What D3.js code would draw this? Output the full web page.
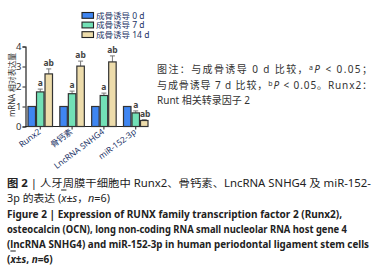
<!DOCTYPE html>
<html>
<head>
<meta charset="utf-8">
<script src="https://cdn.jsdelivr.net/npm/d3@7"></script>
<style>
  body { margin: 0; background: #fff; }
  text { font-family: 'Noto Sans', 'Noto Sans CJK SC', sans-serif; }
</style>
</head>
<body>
<div id="chart"></div>
<script>
const genes = ['Runx2', '骨钙素', 'LncRNA SNHG4', 'miR-152-3p'];
const series = ['成骨诱导 0 d', '成骨诱导 7 d', '成骨诱导 14 d'];
const means0 = [1.0, 1.0, 1.0, 1.0];
const means7 = [1.73, 1.64, 1.55, 0.68];
const means14 = [2.63, 3.02, 3.23, 0.3];
const err0 = [0, 0, 0, 0];
const err7 = [0.14, 0.13, 0.12, 0.1];
const err14 = [0.25, 0.25, 0.3, 0.04];
const sig7 = ['a', 'a', 'a', 'a'];
const sig14 = ['ab', 'ab', 'ab', 'ab'];
const yTicks = [0, 1, 2, 3, 4];

const colors = ['#3f86f2', '#72e0b6', '#eddcab'];
const width = 379, height = 279;

const svg = d3.select('#chart').append('svg')
    .attr('width', width)
    .attr('height', height);
svg.append('rect').attr('width', width).attr('height', height).attr('fill', '#fff');

const xScale = d3.scaleBand().domain(genes).range([28, 148]).paddingInner(0.23).paddingOuter(0.0);
const xSub = d3.scaleBand().domain([0, 1, 2]).range([0, xScale.bandwidth()]).paddingInner(0.12);
const yScale = d3.scaleLinear().domain([0, 4]).range([126.5, 46.5]);

const rows = genes.map((g, i) => ({
    gene: g,
    vals: [means0[i], means7[i], means14[i]],
    errs: [err0[i], err7[i], err14[i]],
    sig: ['', sig7[i], sig14[i]]
}));

// axes
const yAxis = svg.append('g').attr('transform', 'translate(25.5,0)')
    .call(d3.axisLeft(yScale).tickValues(yTicks).tickSize(3).tickFormat(d3.format('d')));
yAxis.select('.domain').attr('stroke', '#222').attr('stroke-width', 1.2);
yAxis.selectAll('.tick line').attr('stroke', '#222');
yAxis.selectAll('.tick text').attr('font-size', 9.5).attr('fill', '#333').attr('x', -4);

const xAxis = svg.append('g').attr('transform', 'translate(0,126.5)')
    .call(d3.axisBottom(xScale).tickSize(3).tickSizeOuter(0).tickFormat(''));
xAxis.select('.domain').attr('stroke', '#222').attr('stroke-width', 1.2)
    .attr('d', 'M25,0H147');
xAxis.selectAll('.tick line').attr('stroke', '#222');

svg.selectAll('.xlab').data(genes).join('text')
    .attr('class', 'xlab')
    .attr('transform', d => `translate(${xScale(d) + xScale.bandwidth() / 2 + 1},133) rotate(-37)`)
    .attr('text-anchor', 'end')
    .attr('font-size', 8.3)
    .attr('fill', '#223366')
    .text(d => d);

svg.append('text')
    .attr('transform', 'translate(15,85) rotate(-90)')
    .attr('text-anchor', 'middle')
    .attr('font-size', 8.5)
    .attr('textLength', 64).attr('lengthAdjust', 'spacingAndGlyphs')
    .attr('fill', '#333')
    .text('mRNA 相对表达量');

// bars
const grp = svg.selectAll('.grp').data(rows).join('g')
    .attr('class', 'grp')
    .attr('transform', d => `translate(${xScale(d.gene)},0)`);

grp.each(function (d) {
    const gg = d3.select(this);
    d.vals.forEach((v, j) => {
        const x0 = xSub(j), w = xSub.bandwidth();
        const cx = x0 + w / 2;
        if (d.errs[j] > 0) {
            const top = yScale(v + d.errs[j]);
            gg.append('line').attr('x1', cx).attr('x2', cx)
                .attr('y1', yScale(v)).attr('y2', top)
                .attr('stroke', '#777').attr('stroke-width', 1);
            gg.append('line').attr('x1', cx - 2.5).attr('x2', cx + 2.5)
                .attr('y1', top).attr('y2', top)
                .attr('stroke', '#777').attr('stroke-width', 1);
        }
        gg.append('rect')
            .attr('x', x0).attr('y', yScale(v))
            .attr('width', w).attr('height', yScale(0) - yScale(v))
            .attr('fill', colors[j])
            .attr('stroke', '#333').attr('stroke-width', 1.2);
        if (d.sig[j]) {
            gg.append('text')
                .attr('x', cx + (j === 2 && d.gene === 'miR-152-3p' ? 1 : 0))
                .attr('y', yScale(v + d.errs[j]) - 3)
                .attr('text-anchor', 'middle')
                .attr('font-size', 8.5)
                .attr('font-weight', 'bold')
                .attr('fill', '#444')
                .text(d.sig[j]);
        }
    });
});

// legend
const leg = svg.selectAll('.leg').data(series).join('g')
    .attr('class', 'leg')
    .attr('transform', (d, i) => `translate(82,${12.5 + i * 9.6})`);
leg.append('rect').attr('width', 11.5).attr('height', 5.8)
    .attr('fill', (d, i) => colors[i]).attr('stroke', '#222').attr('stroke-width', 1.1);
leg.append('text').attr('x', 14).attr('y', 6)
    .attr('font-size', 8.5).attr('fill', '#223366')
    .text(d => d);

// note text on right
const note = svg.append('g').attr('fill', '#333').attr('font-size', 10);
const n1 = note.append('text').attr('x', 157).attr('y', 73)
    .attr('textLength', 215).attr('lengthAdjust', 'spacing');
n1.append('tspan').text('图注：与成骨诱导 0 d 比较，');
n1.append('tspan').attr('font-size', 7).attr('dy', -3).text('a');
n1.append('tspan').attr('font-style', 'italic').attr('dy', 3).text('P');
n1.append('tspan').text(' < 0.05；');
const n2 = note.append('text').attr('x', 157).attr('y', 89)
    .attr('textLength', 215).attr('lengthAdjust', 'spacing');
n2.append('tspan').text('与成骨诱导 7 d 比较，');
n2.append('tspan').attr('font-size', 7).attr('dy', -3).text('b');
n2.append('tspan').attr('font-style', 'italic').attr('dy', 3).text('P');
n2.append('tspan').text(' < 0.05。Runx2：');
note.append('text').attr('x', 157).attr('y', 104)
    .attr('textLength', 93).attr('lengthAdjust', 'spacing')
    .text('Runt 相关转录因子 2');

// caption
const cap = svg.append('g').attr('fill', '#222');
const c1 = cap.append('text').attr('x', 7).attr('y', 186.5).attr('font-size', 10)
    .attr('textLength', 364).attr('lengthAdjust', 'spacingAndGlyphs');
c1.append('tspan').attr('font-weight', 'bold').text('图 2 ');
c1.append('tspan').text('| 人牙周膜干细胞中 Runx2、骨钙素、LncRNA SNHG4 及 miR-152-');
const c2 = cap.append('text').attr('x', 7).attr('y', 201.5).attr('font-size', 10)
    .attr('textLength', 103).attr('lengthAdjust', 'spacingAndGlyphs');
c2.append('tspan').text('3p 的表达 (');
c2.append('tspan').attr('font-style', 'italic').attr('text-decoration', 'overline').text('x');
c2.append('tspan').text('±');
c2.append('tspan').attr('font-style', 'italic').text('s');
c2.append('tspan').text('，');
c2.append('tspan').attr('font-style', 'italic').text('n');
c2.append('tspan').text('=6)');

const enLines = [
    ['Figure 2  |  Expression of RUNX family transcription factor 2 (Runx2),', 335],
    ['osteocalcin (OCN), long non-coding RNA small nucleolar RNA host gene 4', 340],
    ['(lncRNA SNHG4) and miR-152-3p in human periodontal ligament stem cells', 362]
];
enLines.forEach((l, i) => {
    cap.append('text').attr('x', 7).attr('y', 217.5 + i * 15)
        .attr('font-size', 10).attr('font-weight', 'bold')
        .attr('textLength', l[1]).attr('lengthAdjust', 'spacingAndGlyphs')
        .text(l[0]);
});
const c6 = cap.append('text').attr('x', 7).attr('y', 262.5)
    .attr('font-size', 10).attr('font-weight', 'bold');
c6.append('tspan').text('(');
c6.append('tspan').attr('font-style', 'italic').attr('text-decoration', 'overline').text('x');
c6.append('tspan').text('±');
c6.append('tspan').attr('font-style', 'italic').text('s');
c6.append('tspan').text(', ');
c6.append('tspan').attr('font-style', 'italic').text('n');
c6.append('tspan').text('=6)');
</script>
</body>
</html>
